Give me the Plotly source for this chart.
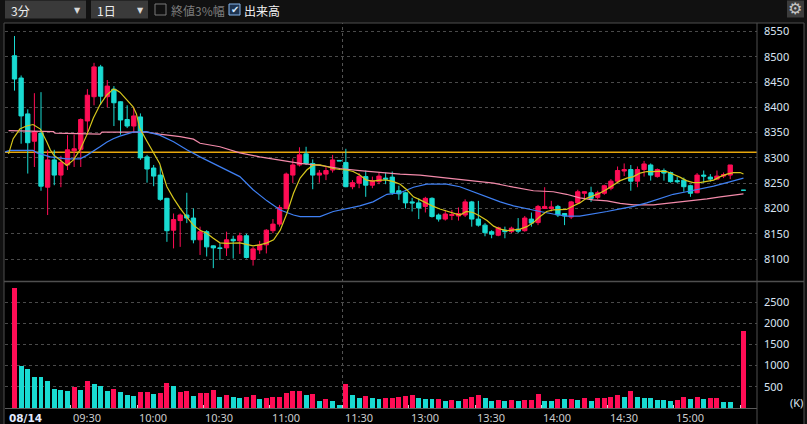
import plotly.graph_objects as go

# 3-minute bars for 08/14. x = bar slot on the time axis:
# slot 9 = 09:30, 49 = 11:30 (morning close), 50 = 12:30, 109 = 15:27 (no trades), 110 = 15:30 close
opens = [8502, 8458, 8387, 8333, 8349, 8242, 8296, 8266, 8286, 8314,
         8317, 8373, 8421, 8480, 8421, 8436, 8411, 8376, 8363, 8381,
         8302, 8280, 8266, 8220, 8157, 8176, 8187, 8181, 8138, 8154,
         8126, 8122, 8122, 8139, 8136, 8146, 8099, 8118, 8128, 8156,
         8169, 8200, 8266, 8286, 8308, 8289, 8266, 8268, 8276, 8295,
         8291, 8243, 8250, 8263, 8246, 8253, 8260, 8262, 8235, 8231,
         8213, 8211, 8204, 8220, 8187, 8179, 8186, 8185, 8187, 8213,
         8179, 8167, 8154, 8147, 8157, 8154, 8159, 8156, 8179, 8172,
         8200, 8200, 8204, 8190, 8183, 8211, 8230, 8231, 8222, 8230,
         8240, 8254, 8274, 8277, 8254, 8277, 8286, 8263, 8275, 8271,
         8255, 8256, 8245, 8231, 8266, 8262, 8258, 8264, 8266, None,
         8236]
highs = [8541, 8463, 8396, 8428, 8430, 8316, 8316, 8304, 8345, 8346,
         8378, 8436, 8488, 8484, 8454, 8442, 8412, 8404, 8400, 8388,
         8306, 8286, 8284, 8221, 8190, 8190, 8231, 8200, 8164, 8157,
         8127, 8131, 8154, 8146, 8152, 8150, 8124, 8136, 8159, 8179,
         8207, 8271, 8299, 8321, 8322, 8297, 8276, 8284, 8306, 8295,
         8318, 8256, 8270, 8275, 8263, 8271, 8271, 8273, 8245, 8233,
         8221, 8220, 8223, 8222, 8190, 8197, 8197, 8202, 8218, 8215,
         8215, 8171, 8157, 8164, 8164, 8164, 8181, 8185, 8192, 8207,
         8242, 8215, 8207, 8191, 8215, 8237, 8234, 8243, 8235, 8247,
         8258, 8283, 8289, 8286, 8283, 8294, 8289, 8279, 8279, 8273,
         8262, 8261, 8247, 8270, 8275, 8268, 8275, 8271, 8286, None,
         8236]
lows = [8433, 8328, 8269, 8282, 8235, 8187, 8246, 8242, 8276, 8282,
        8282, 8346, 8404, 8405, 8400, 8363, 8346, 8359, 8349, 8296,
        8251, 8244, 8215, 8134, 8121, 8124, 8171, 8131, 8108, 8105,
        8082, 8098, 8106, 8101, 8110, 8101, 8087, 8110, 8111, 8151,
        8164, 8198, 8250, 8283, 8286, 8238, 8251, 8256, 8271, 8294,
        8242, 8238, 8240, 8223, 8240, 8248, 8248, 8227, 8217, 8200,
        8194, 8179, 8192, 8182, 8174, 8176, 8177, 8176, 8183, 8164,
        8164, 8145, 8141, 8145, 8141, 8151, 8151, 8154, 8164, 8167,
        8199, 8194, 8183, 8167, 8179, 8209, 8217, 8213, 8218, 8227,
        8236, 8250, 8264, 8235, 8242, 8263, 8255, 8261, 8255, 8251,
        8250, 8233, 8223, 8230, 8251, 8253, 8256, 8260, 8258, None,
        8236]
closes = [8456, 8383, 8330, 8352, 8244, 8296, 8266, 8291, 8316, 8318,
          8376, 8424, 8480, 8422, 8442, 8409, 8375, 8363, 8383, 8300,
          8278, 8264, 8218, 8156, 8178, 8187, 8181, 8138, 8154, 8124,
          8122, 8121, 8138, 8136, 8146, 8103, 8120, 8128, 8157, 8169,
          8202, 8268, 8286, 8306, 8289, 8266, 8270, 8275, 8296, 8294,
          8243, 8251, 8263, 8246, 8255, 8264, 8258, 8231, 8229, 8211,
          8211, 8201, 8220, 8184, 8179, 8189, 8188, 8190, 8213, 8179,
          8167, 8152, 8149, 8162, 8154, 8161, 8155, 8181, 8171, 8204,
          8204, 8203, 8187, 8185, 8213, 8233, 8233, 8220, 8231, 8245,
          8254, 8275, 8277, 8254, 8277, 8288, 8266, 8277, 8270, 8253,
          8253, 8243, 8230, 8266, 8264, 8258, 8264, 8267, 8286, None,
          8236]

# volume in thousands, and whether the bar is shown as buying (1) or selling (0) volume
volume_k = [2830, 983, 912, 724, 724, 629, 441, 417, 393, 488,
            417, 629, 558, 511, 393, 441, 370, 299, 275, 370,
            370, 323, 346, 582, 511, 370, 393, 275, 346, 346,
            417, 252, 299, 252, 229, 252, 299, 205, 236, 255,
            255, 350, 394, 394, 310, 322, 158, 205, 158, 68,
            558, 299, 233, 280, 233, 212, 233, 245, 268, 288,
            306, 236, 205, 205, 205, 158, 181, 158, 205, 252,
            299, 236, 165, 181, 165, 181, 165, 181, 181, 323,
            165, 165, 205, 205, 205, 181, 229, 165, 229, 236,
            259, 299, 259, 394, 252, 229, 229, 181, 181, 158,
            181, 252, 205, 252, 205, 229, 229, 150, 134, None,
            1808]
volume_up = [1, 0, 0, 0, 0, 0, 0, 0, 0, 1,
             0, 1, 0, 0, 0, 1, 0, 0, 0, 1,
             1, 0, 1, 1, 0, 1, 1, 0, 1, 1,
             1, 0, 1, 0, 0, 1, 1, 0, 1, 1,
             1, 1, 1, 1, 0, 1, 0, 1, 0, 0,
             1, 0, 0, 1, 0, 0, 1, 1, 1, 1,
             1, 0, 0, 0, 1, 0, 1, 0, 1, 1,
             1, 0, 0, 1, 0, 1, 0, 1, 1, 1,
             0, 0, 1, 0, 1, 0, 1, 0, 1, 1,
             1, 1, 0, 1, 0, 0, 0, 0, 0, 0,
             1, 1, 0, 1, 0, 1, 1, 0, 0, None,
             1]

prev_close = 8311

# moving averages (slot, price)
ma_short_x = [-0.9, -0.2, 0.8, 1.8, 2.8, 3.9, 4.9, 5.4, 5.9, 6.9, 7.9, 8.9, 9.9, 10.9, 11.9,
              12.9, 13.9, 14.9, 15.4, 15.9, 16.9, 17.9, 18.4, 18.9, 19.9, 20.9, 21.9, 22.5,
              23.0, 24.0, 25.0, 26.0, 27.0, 28.0, 29.0, 30.0, 31.0, 32.0, 33.0, 34.0, 35.0,
              36.0, 37.0, 38.1, 39.1, 40.1, 41.1, 42.1, 43.1, 44.1, 45.1, 46.1, 47.1, 48.1,
              49.1, 50.1, 51.1, 52.1, 53.1, 54.1, 55.1, 56.2, 57.2, 58.2, 59.2, 60.2, 61.2,
              62.2, 63.2, 64.2, 65.2, 66.2, 67.2, 68.2, 69.2, 70.2, 71.3, 72.3, 73.3, 74.3,
              75.3, 76.3, 77.3, 78.3, 79.3, 80.3, 81.3, 82.3, 83.3, 84.3, 85.3, 86.3, 87.3,
              88.3, 89.4, 90.4, 91.4, 92.4, 93.4, 94.4, 95.4, 96.4, 97.4, 98.4, 99.4, 100.4,
              101.4, 102.4, 103.4, 104.5, 105.5, 106.5, 107.5, 108.5, 109.5, 110]
ma_short = [8308, 8338, 8357, 8363, 8366, 8357, 8331, 8316, 8306, 8296, 8285, 8296, 8316, 8345, 8379,
            8405, 8424, 8436, 8434, 8430, 8415, 8401, 8387, 8359, 8335, 8312, 8289, 8263,
            8243, 8220, 8200, 8183, 8167, 8157, 8151, 8141, 8132, 8131, 8131, 8132, 8129,
            8126, 8128, 8132, 8138, 8157, 8190, 8230, 8260, 8276, 8286, 8286, 8283, 8279,
            8277, 8276, 8273, 8266, 8256, 8254, 8256, 8256, 8253, 8248, 8237, 8223, 8217,
            8210, 8204, 8199, 8195, 8190, 8187, 8194, 8192, 8185, 8176, 8165, 8159, 8156,
            8157, 8159, 8164, 8172, 8184, 8194, 8197, 8197, 8198, 8205, 8211, 8220, 8225,
            8230, 8238, 8246, 8255, 8260, 8263, 8270, 8273, 8273, 8274, 8273, 8268, 8262,
            8255, 8251, 8251, 8253, 8256, 8263, 8268, 8271, 8271, 8268]

ma_mid_x = [-1.4, -0.7, 2.8, 3.4, 4.4, 5.4, 7.9, 9.9, 10.9, 11.9, 12.9, 13.9, 14.9, 15.9, 16.9,
            17.9, 19.9, 21.9, 24.0, 26.0, 28.0, 30.0, 32.0, 34.0, 36.0, 38.1, 40.1, 42.1, 43.1,
            46.1, 48.1, 50.1, 52.1, 54.1, 56.2, 58.2, 60.2, 62.2, 65.2, 67.2, 69.2, 71.3, 73.3,
            75.3, 77.3, 79.3, 81.3, 83.3, 85.3, 87.3, 89.4, 91.4, 93.4, 95.4, 97.4, 99.4, 101.4,
            103.4, 105.5, 107.5, 110]
ma_mid = [8312, 8315, 8315, 8310, 8306, 8302, 8298, 8298, 8305, 8313, 8322, 8331, 8338, 8343, 8347,
          8351, 8352, 8345, 8332, 8316, 8302, 8289, 8277, 8263, 8237, 8215, 8197, 8187, 8184,
          8184, 8194, 8199, 8205, 8213, 8228, 8231, 8242, 8248, 8248, 8243, 8233, 8223, 8213,
          8205, 8199, 8194, 8189, 8185, 8185, 8189, 8194, 8199, 8204, 8211, 8220, 8228, 8233,
          8238, 8244, 8251, 8260]

ma_long_x = [-0.9, 5.9, 6.1, 12.9, 13.2, 19.9, 21.9, 25.0, 27.0, 28.0, 31.0, 34.0, 37.0, 40.1,
             43.1, 46.1, 49.1, 52.1, 55.1, 58.2, 61.2, 63.2, 66.2, 69.2, 72.3, 75.3, 78.3, 81.3,
             83.3, 85.3, 87.3, 89.4, 91.4, 93.4, 96.4, 98.4, 100.4, 102.4, 104.5, 106.5, 108.5, 110]
ma_long = [8354, 8352, 8349, 8347, 8351, 8351, 8347, 8342, 8337, 8329, 8322, 8310, 8302, 8296,
           8289, 8285, 8279, 8275, 8271, 8268, 8266, 8263, 8258, 8254, 8250, 8242, 8235, 8233,
           8228, 8221, 8217, 8215, 8210, 8207, 8207, 8210, 8213, 8215, 8219, 8223, 8227, 8229]

price_ticks = [8100, 8150, 8200, 8250, 8300, 8350, 8400, 8450, 8500, 8550]
volume_ticks = [500, 1000, 1500, 2000, 2500]
time_ticks = [8.5, 18.5, 28.5, 38.5, 49.5, 59.5, 69.5, 79.5, 89.5, 99.5, 109.5]
time_labels = ["09:30", "10:00", "10:30", "11:00", "11:30", "13:00", "13:30", "14:00", "14:30", "15:00", ""]
session_break = 49.5

RED = "#ff0d55"
CYAN = "#19dbd2"
GRID = "#4a4a4a"
FRAME = "#4f4f4f"
LABEL = "#dae4f2"

W, H = 807, 424
ML, MR, MT, MB = 5, 50, 23, 16
PW, PH = W - ML - MR, H - MT - MB
SLOT_PX, SLOT0_PX = 6.627, 14.5   # bar spacing and first bar centre, in pixels


def px(x):
    return (x - ML) / PW


def py(y):
    return (H - MB - y) / PH


slots = list(range(len(closes)))
vol_colors = [RED if u else CYAN for u in volume_up]

fig = go.Figure()
fig.add_trace(go.Scatter(x=ma_long_x, y=ma_long, mode="lines", line=dict(color="#f38aaa", width=1.2),
                         xaxis="x", yaxis="y"))
fig.add_trace(go.Scatter(x=ma_mid_x, y=ma_mid, mode="lines", line=dict(color="#3f80f4", width=1.2),
                         xaxis="x", yaxis="y"))
fig.add_trace(go.Scatter(x=ma_short_x, y=ma_short, mode="lines", line=dict(color="#d6c61c", width=1.2),
                         xaxis="x", yaxis="y"))
fig.add_trace(go.Candlestick(x=slots, open=opens, high=highs, low=lows, close=closes,
                             increasing=dict(line=dict(color=RED, width=1), fillcolor=RED),
                             decreasing=dict(line=dict(color=CYAN, width=1), fillcolor=CYAN),
                             whiskerwidth=0, xaxis="x", yaxis="y"))
fig.add_trace(go.Bar(x=slots, y=volume_k, marker=dict(color=vol_colors, line=dict(width=0)),
                     width=0.75, xaxis="x2", yaxis="y2"))

xrange = [(ML - SLOT0_PX) / SLOT_PX, (ML + PW - SLOT0_PX) / SLOT_PX]

fig.update_layout(
    width=W, height=H, margin=dict(l=ML, r=MR, t=MT, b=MB),
    paper_bgcolor="#111111", plot_bgcolor="rgba(0,0,0,0)",
    showlegend=False, boxgap=0.35, boxgroupgap=0, bargap=0,
    font=dict(family="Noto Sans, Liberation Sans, sans-serif", size=11, color=LABEL),
    xaxis=dict(domain=[0, 1], anchor="y", range=xrange, showgrid=False, zeroline=False,
               showticklabels=False, ticks="", rangeslider=dict(visible=False), fixedrange=True),
    xaxis2=dict(domain=[0, 1], anchor="y2", matches="x", showgrid=False, zeroline=False,
                tickmode="array", tickvals=time_ticks, ticks="inside", ticklen=3, tickcolor="#d0d0d0",
                showticklabels=False, showline=True, linecolor="#5a5a5a", linewidth=1),
    yaxis=dict(domain=[py(281), 1], anchor="x", side="right", range=[8056.5, 8566.8],
               tickmode="array", tickvals=price_ticks, showgrid=True, gridcolor=GRID, griddash="dot",
               gridwidth=1, zeroline=False, ticks="", ticklabelstandoff=6),
    yaxis2=dict(domain=[0, py(282)], anchor="x2", side="right", range=[0, 2972],
                tickmode="array", tickvals=volume_ticks, showgrid=True, gridcolor=GRID, griddash="dot",
                gridwidth=1, zeroline=False, ticks="", ticklabelstandoff=6),
)

shapes = [
    # chart frame and panel separators
    dict(type="rect", xref="paper", yref="paper", x0=px(4), x1=px(804), y0=py(430), y1=py(23),
         fillcolor="#000000", line=dict(color=FRAME, width=1), layer="below"),
    dict(type="line", xref="paper", yref="paper", x0=px(4), x1=px(804), y0=py(281.5), y1=py(281.5),
         line=dict(color=FRAME, width=1.5)),
    dict(type="line", xref="paper", yref="paper", x0=px(757), x1=px(757), y0=py(430), y1=py(23),
         line=dict(color=FRAME, width=1)),
    dict(type="line", xref="x", yref="paper", x0=session_break, x1=session_break, y0=0, y1=1,
         line=dict(color="#555555", width=1, dash="dot"), layer="below"),
    # previous close
    dict(type="line", xref="paper", yref="y", x0=0, x1=1, y0=prev_close, y1=prev_close,
         line=dict(color="#e6a60c", width=1.5), layer="below"),
    # toolbar controls
    dict(type="rect", xref="paper", yref="paper", x0=px(5), x1=px(86), y0=py(18.5), y1=py(0.5),
         fillcolor="#3a3a3a", line=dict(width=0)),
    dict(type="rect", xref="paper", yref="paper", x0=px(91), x1=px(148), y0=py(18.5), y1=py(0.5),
         fillcolor="#3a3a3a", line=dict(width=0)),
    dict(type="rect", xref="paper", yref="paper", x0=px(155), x1=px(166), y0=py(15), y1=py(4),
         fillcolor="rgba(0,0,0,0)", line=dict(color="#7a7a7a", width=1)),
    dict(type="rect", xref="paper", yref="paper", x0=px(229), x1=px(240), y0=py(15), y1=py(4),
         fillcolor="#1d3350", line=dict(color="#86b6ec", width=1)),
    dict(type="rect", xref="paper", yref="paper", x0=px(787), x1=px(804), y0=py(17.5), y1=py(0.5),
         fillcolor="#3c3c3c", line=dict(width=0)),
]
fig.update_layout(shapes=shapes)

jp = "Noto Sans CJK JP"
annotations = [
    dict(text="3分", x=px(9), y=py(10), font=dict(family=jp, size=12, color="#eeeeee")),
    dict(text="▼", x=px(72), y=py(10), font=dict(family="DejaVu Sans", size=8, color="#d8d8d8")),
    dict(text="1日", x=px(95), y=py(10), font=dict(family=jp, size=12, color="#eeeeee")),
    dict(text="▼", x=px(135), y=py(10), font=dict(family="DejaVu Sans", size=8, color="#d8d8d8")),
    dict(text="終値3%幅", x=px(169), y=py(10), font=dict(family=jp, size=12, color="#7c7c7c")),
    dict(text="✔", x=px(229.5), y=py(9.5), font=dict(family="DejaVu Sans", size=10, color="#d4e8ff")),
    dict(text="出来高", x=px(242), y=py(10), font=dict(family=jp, size=12, color="#f2f2f2")),
    dict(text="⚙", x=px(786), y=py(9), font=dict(family="DejaVu Sans", size=16, color="#c4c4c4")),
    dict(text="(K)", x=px(788), y=py(402), font=dict(size=11, color=LABEL)),
    dict(text="<b>08/14</b>", x=px(7), y=py(417.5),
         font=dict(family="DejaVu Sans", size=10.5, color="#e2eaff")),
]
for a in annotations:
    a.update(xref="paper", yref="paper", xanchor="left", yanchor="middle", showarrow=False)

for t, lab in zip(time_ticks, time_labels):
    if lab:
        annotations.append(dict(text=lab, x=t, xref="x2", y=py(417.5), yref="paper",
                                xanchor="left", yanchor="middle", xshift=0, showarrow=False,
                                font=dict(size=11, color="#cccccc")))
fig.update_layout(annotations=annotations)

# the page body has a default 8px margin; drop it so the figure fills the window
fig.write_html("out.html", config={"displayModeBar": False},
               post_script="document.body.style.margin='0';")
